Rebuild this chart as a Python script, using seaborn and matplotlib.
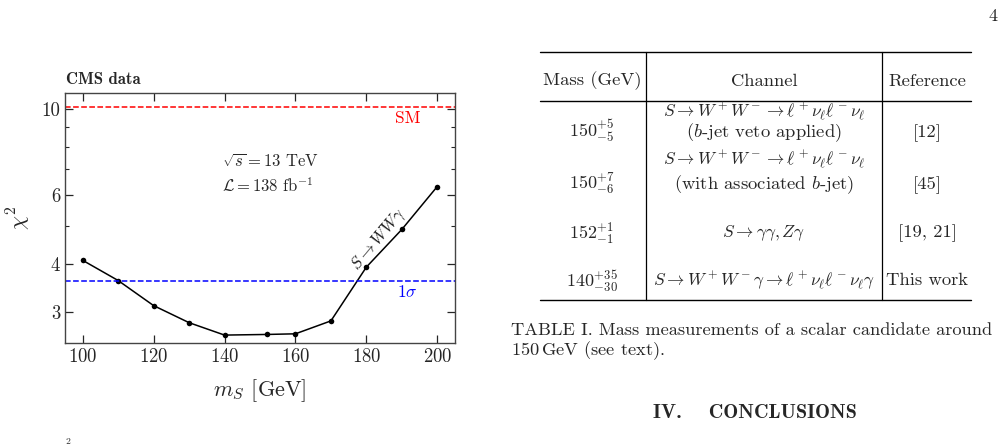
import numpy as np
import pandas as pd
import seaborn as sns
import matplotlib.pyplot as plt
from matplotlib.lines import Line2D
from matplotlib.ticker import FixedLocator, FixedFormatter, NullFormatter

# chi^2 scan vs scalar mass
mass = [100, 110, 120, 130, 140, 152, 160, 170, 180, 190, 200]
chi2 = [4.08, 3.62, 3.12, 2.82, 2.62, 2.63, 2.64, 2.85, 3.92, 4.90, 6.32]
chi2_sm = 10.1
chi2_1sigma = 3.62

xticks = [100, 120, 140, 160, 180, 200]
yticks = [3, 4, 6, 10]
yminor = [5, 7, 8, 9]

# table contents
tab_header = ["Mass (GeV)", "Channel", "Reference"]
tab_mass = [r"$150^{+5}_{-5}$", r"$150^{+7}_{-6}$", r"$152^{+1}_{-1}$", r"$140^{+35}_{-30}$"]
tab_channel = [
    [r"$S \to W^+W^- \to \ell^+\nu_\ell\ell^-\nu_\ell$", r"($b$-jet veto applied)"],
    [r"$S \to W^+W^- \to \ell^+\nu_\ell\ell^-\nu_\ell$", r"(with associated $b$-jet)"],
    [r"$S \to \gamma\gamma, Z\gamma$"],
    [r"$S \to W^+W^-\gamma \to \ell^+\nu_\ell\ell^-\nu_\ell\gamma$"],
]
tab_ref = ["[12]", "[45]", "[19, 21]", "This work"]

sns.set_style("ticks")
plt.rcParams["font.family"] = "serif"
plt.rcParams["font.serif"] = ["cmr10", "DejaVu Serif"]
plt.rcParams["mathtext.fontset"] = "cm"
plt.rcParams["axes.formatter.use_mathtext"] = True
plt.rcParams["axes.unicode_minus"] = False

W, H = 1007, 447
fig = plt.figure(figsize=(W / 100, H / 100), dpi=100)

def fx(px):
    return px / W

def fy(py):
    return 1 - py / H

# ---- left: the chart
ax = fig.add_axes([fx(65), fy(343), fx(455) - fx(65), fy(93) - fy(343)])
df = pd.DataFrame({"m": mass, "chi2": chi2})
sns.lineplot(data=df, x="m", y="chi2", color="black", lw=1.1, marker="o",
             markersize=4, markeredgewidth=0, ax=ax)
ax.axhline(chi2_sm, color="red", ls="--", lw=1.1)
ax.axhline(chi2_1sigma, color="blue", ls="--", lw=1.1)
ax.set_yscale("log")
ax.set_xlim(95, 205)
ax.set_ylim(2.5, 11)
ax.set_xticks(xticks)
ax.yaxis.set_major_locator(FixedLocator(yticks))
ax.yaxis.set_major_formatter(FixedFormatter([str(t) for t in yticks]))
ax.yaxis.set_minor_locator(FixedLocator(yminor))
ax.yaxis.set_minor_formatter(NullFormatter())
ax.tick_params(which="both", direction="in", top=True, right=True, labelsize=13.5)
ax.tick_params(which="major", length=6, width=0.9)
ax.tick_params(which="minor", length=3, width=0.8)
for s in ax.spines.values():
    s.set_color("#444444")
    s.set_linewidth(1.0)
ax.set_xlabel(r"$m_S$ [GeV]", fontsize=16, labelpad=8)
ax.set_ylabel(r"$\chi^2$", fontsize=16, labelpad=6)

ax.text(139.3, 7.35, r"$\sqrt{s} = 13$ TeV", fontsize=12, va="center", ha="left")
ax.text(139.3, 6.37, r"$\mathcal{L} = 138$ fb$^{-1}$", fontsize=12, va="center", ha="left")
ax.text(183.6, 4.6, r"$S \to WW\gamma$", fontsize=12, rotation=50,
        va="center", ha="center", rotation_mode="anchor")
ax.text(191.8, 9.45, "SM", color="red", fontsize=12.5, ha="center", va="center")
ax.text(191.5, 3.38, r"$1\sigma$", color="blue", fontsize=12.5, ha="center", va="center")
fig.text(fx(66), fy(80), "CMS data", fontsize=12, fontweight="bold",
         family="cmb10", va="center", ha="left")

# ---- right: the table
def hline(y, x0=540, x1=971, lw=1.0):
    fig.add_artist(Line2D([fx(x0), fx(x1)], [fy(y), fy(y)], color="black", lw=lw))

def vline(x, y0=52, y1=300, lw=0.9):
    fig.add_artist(Line2D([fx(x), fx(x)], [fy(y0), fy(y1)], color="black", lw=lw))

hline(52)
hline(101)
hline(300)
vline(646)
vline(882)

col_x = [592, 764, 927]
for x, t in zip(col_x, tab_header):
    fig.text(fx(x), fy(81), t, fontsize=13.4, ha="center", va="center")

row_mass_y = [131, 183, 233, 281]
row_line_y = [[112, 133], [160, 185], [233], [280]]
for i in range(4):
    fig.text(fx(col_x[0]), fy(row_mass_y[i]), tab_mass[i], fontsize=13,
             ha="center", va="center")
    for j, (t, y) in enumerate(zip(tab_channel[i], row_line_y[i])):
        size = 13.4 if j == 1 else 12.5
        fig.text(fx(col_x[1]), fy(y), t, fontsize=size, ha="center", va="center")
    fig.text(fx(col_x[2]), fy(row_line_y[i][-1]), tab_ref[i], fontsize=13.4,
             ha="center", va="center")

fig.text(fx(511), fy(330), "TABLE I. Mass measurements of a scalar candidate around",
         fontsize=13.2, ha="left", va="center")
fig.text(fx(511), fy(351), r"150$\,$GeV (see text).", fontsize=13.2, ha="left", va="center")
fig.text(fx(755), fy(413), "IV.    CONCLUSIONS", fontsize=14.5, family="cmb10",
         ha="center", va="center")
fig.text(fx(993), fy(16), "4", fontsize=13, ha="center", va="center")
fig.text(fx(68), fy(442), "2", fontsize=7, ha="center", va="center")

fig.savefig("out.png", dpi=100)
